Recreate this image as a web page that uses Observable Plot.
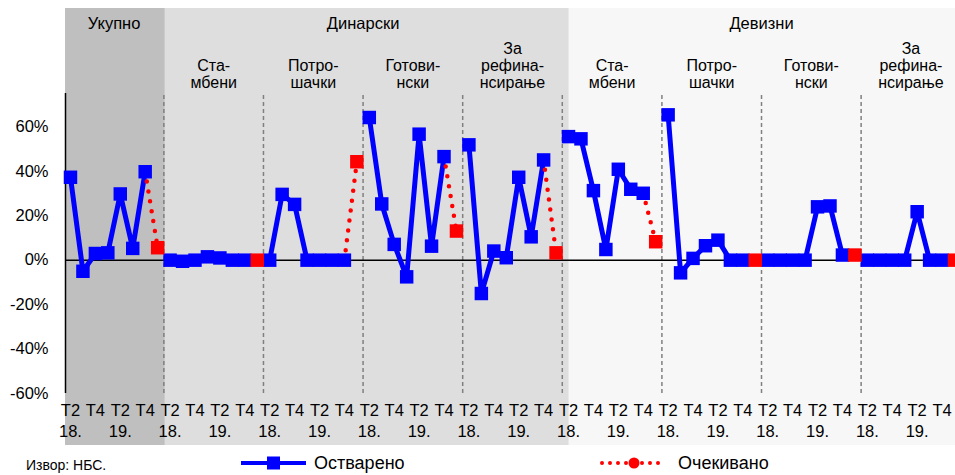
<!DOCTYPE html>
<html><head><meta charset="utf-8">
<script src="https://cdn.jsdelivr.net/npm/d3@7"></script>
<script src="https://cdn.jsdelivr.net/npm/@observablehq/plot@0.6"></script>
<style>
html,body{margin:0;padding:0;background:#fff;overflow:hidden;}
body{font-family:"Liberation Sans",Arial,sans-serif;width:955px;height:475px;position:relative;}
#chart{position:absolute;left:0;top:0;}
.leg{position:absolute;top:452px;height:22px;display:flex;align-items:center;font-size:18px;color:#000;}
.leg svg{display:block;margin-right:6px;}
#cap{position:absolute;left:26px;top:458px;font-size:14px;line-height:15px;}
</style></head>
<body>
<div id="chart"></div>
<div class="leg" style="left:240px"><svg width="68" height="22"><line x1="1" y1="11" x2="66" y2="11" stroke="#0000ff" stroke-width="4"/><rect x="27" y="4.5" width="13" height="13" fill="#0000ff"/></svg>Остварено</div>
<div class="leg" style="left:600px"><svg width="72" height="22"><line x1="2" y1="11" x2="62" y2="11" stroke="#ff0000" stroke-width="4" stroke-linecap="round" stroke-dasharray="0,8"/><circle cx="34" cy="11" r="5.5" fill="#ff0000"/></svg>Очекивано</div>
<div id="cap">Извор: НБС.</div>
<script>
// ---- data ----
const groups = ["Укупно", "Динарски", "Девизни"];
const groupPanels = [[0, 1], [1, 5], [5, 9]]; // panel ranges per group
const panelLabels = ["", "Ста-\nмбени", "Потро-\nшачки", "Готови-\nнски", "За\nрефина-\nнсирање",
                     "Ста-\nмбени", "Потро-\nшачки", "Готови-\nнски", "За\nрефина-\nнсирање"];
const quarterLabels = ["Т2", "", "Т4", "", "Т2", "", "Т4", ""];
const yearLabels = ["18.", "", "", "", "19.", "", "", ""];
const realized = [
  [37.3, -5, 3, 3.3, 29.8, 5.3, 39.8],
  [0, -0.5, 0, 1.5, 1, 0, 0],
  [0, 29.6, 25.1, 0, 0, 0, 0],
  [64.2, 25.3, 7.1, -7.5, 56.7, 6.3, 46.6],
  [51.9, -15, 4.1, 1.1, 37.3, 10.5, 45.1],
  [55.6, 54.6, 31.3, 4.8, 40.9, 31.9, 30.1],
  [65.4, -5.7, 0.8, 6.5, 9, 0, 0],
  [0, 0, 0, 0, 24, 24.4, 2.3],
  [0, 0, 0, 0, 21.8, 0, 0]
];
const expected = [5.6, 0, 44.3, 13.1, 3.3, 8.3, 0, 2.3, 0];
const yTicks = [-60, -40, -20, 0, 20, 40, 60];
const groupColors = ["#bfbfbf", "#dedede", "#f7f7f7"];

// ---- derived tables ----
const per = 8;
const xDomain = [-0.4, 71.08];
const yDomain = [-60, 75];
const real = [], expLine = [], expPts = [], ticks = [], labelRows = [];
realized.forEach((vals, p) => {
  vals.forEach((v, i) => real.push({p, i: p * per + i, v}));
  expLine.push({p, i: p * per + 6, v: vals[6]}, {p, i: p * per + 7, v: expected[p]});
  expPts.push({p, i: p * per + 7, v: expected[p]});
  quarterLabels.forEach((q, j) => ticks.push({i: p * per + j, q, yr: yearLabels[j]}));
  const lines = panelLabels[p] ? panelLabels[p].split("\n") : [];
  lines.forEach((t, j) => labelRows.push({i: p * per + 3.5, t, k: lines.length - 1 - j}));
});
const bg = groups.map((g, k) => ({
  g, fill: groupColors[k],
  x1: k === 0 ? xDomain[0] : groupPanels[k][0] * per - 0.5 + (k === 2 ? 0.56 : 0.12),
  x2: k === 2 ? xDomain[1] : groupPanels[k][1] * per - 0.5 + (k === 1 ? 0.56 : 0.12),
  c: (groupPanels[k][0] * per - 0.5 + groupPanels[k][1] * per - 0.5) / 2
}));
bg[0].c = 3.5;
const dividers = d3.range(1, realized.length).map(p => p * per - 0.5);

const chart = Plot.plot({
  width: 955, height: 450,
  marginTop: 93, marginBottom: 57, marginLeft: 65, marginRight: 0,
  style: {fontFamily: "Liberation Sans, Arial, sans-serif", fontSize: "16px", overflow: "visible", background: "transparent", color: "#000"},
  x: {type: "linear", domain: xDomain, axis: null},
  y: {domain: yDomain, axis: null},
  marks: [
    Plot.rect(bg, {x1: "x1", x2: "x2", y1: yDomain[0] - 23.4, y2: yDomain[1] + 38.25, fill: "fill"}),
    Plot.ruleX(dividers, {y1: yDomain[0], y2: yDomain[1], stroke: "#808080", strokeWidth: 1.5, strokeDasharray: "4,3"}),
    Plot.ruleY([0], {x1: xDomain[0], x2: xDomain[1], stroke: "#000", strokeWidth: 1.5}),
    Plot.ruleX([xDomain[0]], {y1: yDomain[0], y2: yDomain[1], stroke: "#000", strokeWidth: 1.5}),
    Plot.axisY({ticks: yTicks, tickFormat: d => d + "%", tickSize: 0, tickPadding: 17, fontSize: 16.5, label: null}),
    Plot.line(real, {x: "i", y: "v", z: "p", stroke: "#0000ff", strokeWidth: 5, strokeLinejoin: "miter"}),
    Plot.line(expLine, {x: "i", y: "v", z: "p", stroke: "#ff0000", strokeWidth: 4.5, strokeDasharray: "0,10", strokeLinecap: "round"}),
    Plot.dot(real, {x: "i", y: "v", symbol: "square", r: 7.6, fill: "#0000ff"}),
    Plot.dot(expPts, {x: "i", y: "v", symbol: "square", r: 7.6, fill: "#ff0000"}),
    Plot.text(ticks.filter(d => d.q), {x: "i", text: "q", frameAnchor: "bottom", dy: 22, fontSize: 16.5}),
    Plot.text(ticks.filter(d => d.yr), {x: "i", text: "yr", frameAnchor: "bottom", dy: 43, fontSize: 16.5}),
    Plot.text(bg, {x: "c", text: "g", frameAnchor: "top", dy: -76, fontSize: 16.5}),
    ...[0, 1, 2].map(k => Plot.text(labelRows.filter(d => d.k === k), {x: "i", text: "t", frameAnchor: "top", dy: -17 - 17 * k, fontSize: 16}))
  ]
});
document.getElementById("chart").appendChild(chart);
</script>
</body></html>
